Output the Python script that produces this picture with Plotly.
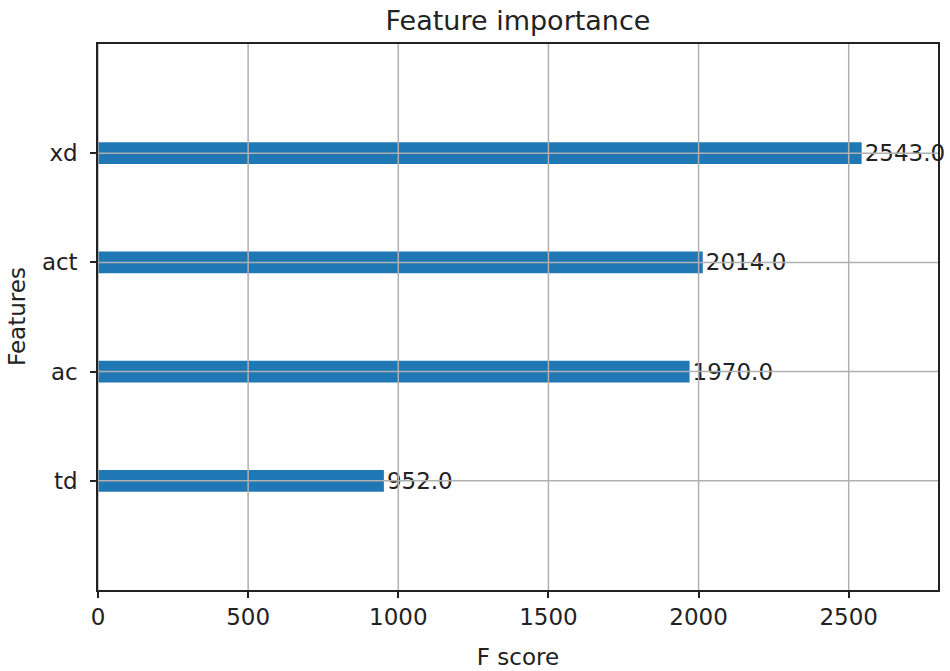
import plotly.graph_objects as go

features = ["td", "ac", "act", "xd"]
f_scores = [952.0, 1970.0, 2014.0, 2543.0]
x_ticks = [0, 500, 1000, 1500, 2000, 2500]

x_max = max(f_scores) * 1.1
FONT = "DejaVu Sans"
TXT = "#222222"

fig = go.Figure()
fig.add_trace(go.Bar(
    x=f_scores, y=features, orientation="h", width=0.2,
    marker=dict(color="#1f77b4", line=dict(width=0)),
    text=[f"{v:.1f}" for v in f_scores], textposition="outside",
    textfont=dict(family=FONT, size=23, color=TXT),
    constraintext="none", cliponaxis=False, showlegend=False,
))

grid_style = dict(color="#b0b0b0", width=1.5)
shapes = []
for t in x_ticks:
    shapes.append(dict(type="line", xref="x", yref="paper", x0=t, x1=t, y0=0, y1=1,
                       line=grid_style, layer="above"))
for f in features:
    shapes.append(dict(type="line", xref="paper", yref="y", x0=0, x1=1, y0=f, y1=f,
                       line=grid_style, layer="above"))

fig.update_layout(
    width=950, height=671,
    margin=dict(l=98, r=12, t=44, b=81, autoexpand=False),
    paper_bgcolor="white", plot_bgcolor="white",
    font=dict(family=FONT, size=23, color=TXT),
    title=dict(text="Feature importance", x=518 / 950, xanchor="center",
               y=1 - 21 / 671, yanchor="middle", yref="container", automargin=False,
               font=dict(family=FONT, size=27, color=TXT)),
    shapes=shapes,
    annotations=[dict(text="Features", textangle=-90, xref="paper", yref="paper",
                      x=(17 - 98) / 840, y=0.5, xanchor="center", yanchor="middle",
                      showarrow=False, font=dict(family=FONT, size=23, color=TXT))],
    xaxis=dict(range=[0, x_max], tickvals=x_ticks, showgrid=False, zeroline=False,
               showline=True, mirror=True, linecolor="#222222", linewidth=1.5,
               ticks="outside", ticklen=6, tickwidth=1.5, tickcolor="#222222",
               tickfont=dict(size=23), automargin=False,
               title=dict(text="F score", standoff=20, font=dict(size=23))),
    yaxis=dict(range=[-1, len(features)], showgrid=False, zeroline=False,
               showline=True, mirror=True, linecolor="#222222", linewidth=1.5,
               ticks="outside", ticklen=6, tickwidth=1.5, tickcolor="#222222",
               tickfont=dict(size=23), automargin=False, ticklabelstandoff=8),
)

fig.write_html("out.html", config={"displayModeBar": False},
               post_script="document.body.style.margin='0';")
